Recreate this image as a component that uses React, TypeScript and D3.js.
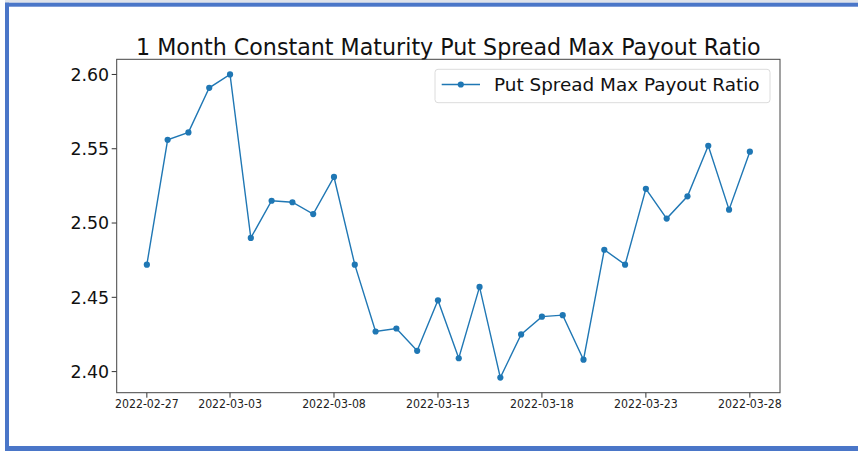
import React from "react";
import * as d3 from "d3";

const dates = [
  "2022-02-27", "2022-02-28", "2022-03-01", "2022-03-02", "2022-03-03",
  "2022-03-04", "2022-03-05", "2022-03-06", "2022-03-07", "2022-03-08",
  "2022-03-09", "2022-03-10", "2022-03-11", "2022-03-12", "2022-03-13",
  "2022-03-14", "2022-03-15", "2022-03-16", "2022-03-17", "2022-03-18",
  "2022-03-19", "2022-03-20", "2022-03-21", "2022-03-22", "2022-03-23",
  "2022-03-24", "2022-03-25", "2022-03-26", "2022-03-27", "2022-03-28",
];
const ratio = [
  2.472, 2.556, 2.561, 2.591, 2.6,
  2.49, 2.515, 2.514, 2.506, 2.531,
  2.472, 2.427, 2.429, 2.414, 2.448,
  2.409, 2.457, 2.396, 2.425, 2.437,
  2.438, 2.408, 2.482, 2.472, 2.523,
  2.503, 2.518, 2.552, 2.509, 2.548,
];
const xTickLabels = [
  "2022-02-27", "2022-03-03", "2022-03-08", "2022-03-13",
  "2022-03-18", "2022-03-23", "2022-03-28",
];
const yTicks = [2.4, 2.45, 2.5, 2.55, 2.6];

const title = "1 Month Constant Maturity Put Spread Max Payout Ratio";
const seriesName = "Put Spread Max Payout Ratio";

const W = 858;
const H = 451;
const left = 116.7;
const right = 780;
const top = 59.3;
const bottom = 392.7;
const blue = "#1f77b4";
const font = "DejaVu Sans, sans-serif";

const parse = d3.utcParse("%Y-%m-%d");
const DAY = 864e5;

const App = () => {
  const pts = dates.map((d, i) => ({ date: parse(d) as Date, v: ratio[i] }));
  const [d0, d1] = d3.extent(pts, (p) => p.date) as [Date, Date];
  const pad = ((+d1 - +d0) / DAY) * 0.05 * DAY;

  const x = d3
    .scaleUtc()
    .domain([new Date(+d0 - pad), new Date(+d1 + pad)])
    .range([left, right]);
  const [vMin, vMax] = d3.extent(ratio) as [number, number];
  const vPad = (vMax - vMin) * 0.05;
  const y = d3
    .scaleLinear()
    .domain([vMin - vPad, vMax + vPad])
    .range([bottom, top]);

  const line = d3
    .line<{ date: Date; v: number }>()
    .x((p) => x(p.date))
    .y((p) => y(p.v));

  return (
    <div style={{ position: "fixed", left: 0, top: 0 }}>
      <svg width={W} height={H} style={{ display: "block", background: "#fff" }}>
        {/* blue frame of the screenshot */}
        <rect x={5} y={0} width={W - 5} height={2.7} fill="#dfe3ea" />
        <rect x={5} y={2.7} width={W - 5} height={4} fill="#4a76c8" />
        <rect x={5} y={2.7} width={4} height={H - 2.7} fill="#4a76c8" />
        <rect x={5} y={446} width={W - 5} height={5} fill="#4a76c8" />

        <text
          x={(left + right) / 2}
          y={54.5}
          textAnchor="middle"
          fontFamily={font}
          fontSize={22.2}
          fill="#111"
        >
          {title}
        </text>

        {/* y axis */}
        {yTicks.map((t) => (
          <g key={t} transform={`translate(0,${y(t)})`}>
            <line x1={left - 5} x2={left} stroke="#333" strokeWidth={1} />
            <text
              x={left - 7.5}
              dy="0.36em"
              textAnchor="end"
              fontFamily={font}
              fontSize={17.4}
              fill="#111"
            >
              {d3.format(".2f")(t)}
            </text>
          </g>
        ))}

        {/* x axis */}
        {xTickLabels.map((s) => {
          const px = x(parse(s) as Date);
          return (
            <g key={s} transform={`translate(${px},0)`}>
              <line y1={bottom} y2={bottom + 5} stroke="#333" strokeWidth={1} />
              <text
                y={bottom + 15.5}
                textAnchor="middle"
                fontFamily="DejaVu Sans Condensed, DejaVu Sans, sans-serif"
                fontSize={12.2}
                fill="#222"
              >
                {s}
              </text>
            </g>
          );
        })}

        <path d={line(pts) ?? ""} fill="none" stroke={blue} strokeWidth={1.4} />
        {pts.map((p, i) => (
          <circle key={i} cx={x(p.date)} cy={y(p.v)} r={3.1} fill={blue} />
        ))}

        <rect
          x={left}
          y={top}
          width={right - left}
          height={bottom - top}
          fill="none"
          stroke="#444"
          strokeWidth={1}
        />

        {/* legend */}
        <rect
          x={435}
          y={69.3}
          width={335}
          height={33.4}
          rx={3}
          fill="#fff"
          fillOpacity={0.8}
          stroke="#dcdcdc"
          strokeWidth={1}
        />
        <line x1={441.7} x2={480} y1={84.5} y2={84.5} stroke={blue} strokeWidth={1.4} />
        <circle cx={460.8} cy={84.5} r={3.1} fill={blue} />
        <text x={494} y={91.3} fontFamily={font} fontSize={18.4} fill="#111">
          {seriesName}
        </text>
      </svg>
    </div>
  );
};

export default App;
